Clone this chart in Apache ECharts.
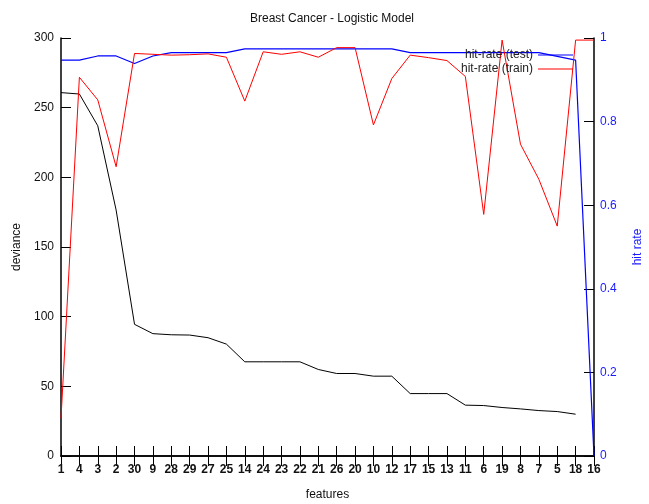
<!DOCTYPE html>
<html>
<head>
<meta charset="utf-8">
<script src="https://cdn.jsdelivr.net/npm/echarts@6/dist/echarts.min.js"></script>
<style>
  html, body { margin: 0; padding: 0; background: #fff; }
  #chart { width: 649px; height: 504px; }
</style>
</head>
<body>
<div id="chart"></div>
<script>
// Feature order used when growing the logistic model
var features = ['1','4','3','2','30','9','28','29','27','25','14','24','23','22','21','26','20','10','12','17','15','13','11','6','19','8','7','5','18','16'];

// Residual deviance after adding each feature (left axis)
var deviance = [260.8,259.8,237,176.5,94.5,87.8,87,86.8,84.9,80.3,67.6,67.6,67.6,67.6,62.1,59.2,59.2,57.3,57.3,44.8,44.8,44.8,36.5,36.2,34.8,33.8,32.6,31.9,30,null];

// Hit rates on the test and training sets (right axis)
var hitTest = [0.947,0.947,0.957,0.957,0.939,0.957,0.965,0.965,0.965,0.965,0.974,0.974,0.974,0.974,0.974,0.974,0.974,0.974,0.974,0.965,0.965,0.965,0.965,0.965,0.965,0.965,0.965,0.956,0.947,0];
var hitTrain = [0.09,0.906,0.852,0.692,0.963,0.961,0.959,0.96,0.962,0.954,0.849,0.967,0.961,0.967,0.954,0.977,0.977,0.792,0.903,0.959,0.953,0.946,0.908,0.578,0.995,0.746,0.662,0.55,0.995,0.995];

var font = "'Liberation Sans', Arial, sans-serif";
var chart = echarts.init(document.getElementById('chart'), null, { renderer: 'canvas' });

chart.setOption({
  animation: false,
  backgroundColor: '#fff',
  textStyle: { fontFamily: font },
  title: {
    text: 'Breast Cancer - Logistic Model',
    left: 327, textAlign: 'center', top: 8,
    textStyle: { fontFamily: font, fontSize: 12, fontWeight: 'normal', color: '#111' }
  },
  legend: {
    data: ['hit-rate (test)', 'hit-rate (train)'],
    orient: 'vertical', align: 'right',
    right: 71, top: 44, itemGap: 2,
    itemWidth: 35, itemHeight: 1.2, icon: 'rect',
    textStyle: { fontFamily: font, fontSize: 12, color: '#222' }
  },
  grid: { left: 61, right: 55, top: 38, bottom: 48, containLabel: false, outerBoundsMode: 'none' },
  xAxis: [{
    type: 'category', data: features, boundaryGap: false, position: 'bottom',
    name: 'features', nameLocation: 'middle', nameGap: 33,
    nameTextStyle: { fontFamily: font, fontSize: 12, color: '#111' },
    axisLine: { lineStyle: { color: '#000', width: 1.5 } },
    axisTick: { inside: true, length: 10, lineStyle: { color: '#000' } },
    axisLabel: { fontFamily: font, fontSize: 12, fontWeight: 'bold', color: '#111', margin: 8, interval: 0 },
    splitLine: { show: false }
  }, {
    type: 'category', data: features, boundaryGap: false, position: 'top',
    axisLine: { lineStyle: { color: '#000', width: 1.5 } },
    axisTick: { inside: true, length: 10, lineStyle: { color: '#000' } },
    axisLabel: { show: false },
    splitLine: { show: false }
  }],
  yAxis: [{
    type: 'value', min: 0, max: 300, interval: 50, position: 'left',
    name: 'deviance', nameLocation: 'middle', nameGap: 32, nameRotate: 90,
    nameTextStyle: { fontFamily: font, fontSize: 12, color: '#111' },
    axisLine: { show: true, lineStyle: { color: '#000', width: 1.5 } },
    axisTick: { show: true, inside: true, length: 10, lineStyle: { color: '#000' } },
    axisLabel: { fontFamily: font, fontSize: 12, color: '#111', margin: 7 },
    splitLine: { show: false }
  }, {
    type: 'value', min: 0, max: 1, interval: 0.2, position: 'right',
    name: 'hit rate', nameLocation: 'middle', nameGap: 38, nameRotate: 90,
    nameTextStyle: { fontFamily: font, fontSize: 12, color: '#1a1aff' },
    axisLine: { show: true, lineStyle: { color: '#000', width: 1.5 } },
    axisTick: { show: true, inside: true, length: 10, lineStyle: { color: '#000' } },
    axisLabel: { fontFamily: font, fontSize: 12, color: '#1a1aff', margin: 6 },
    splitLine: { show: false }
  }],
  series: [{
    name: 'deviance', type: 'line', xAxisIndex: 0, yAxisIndex: 0,
    data: deviance, showSymbol: false, symbol: 'none',
    lineStyle: { color: '#000', width: 1 }, itemStyle: { color: '#000' }
  }, {
    name: 'hit-rate (test)', type: 'line', xAxisIndex: 0, yAxisIndex: 1,
    data: hitTest, showSymbol: false, symbol: 'none',
    lineStyle: { color: '#0000ff', width: 1.2 }, itemStyle: { color: '#0000ff' }
  }, {
    name: 'hit-rate (train)', type: 'line', xAxisIndex: 0, yAxisIndex: 1,
    data: hitTrain, showSymbol: false, symbol: 'none',
    lineStyle: { color: '#ff0000', width: 1 }, itemStyle: { color: '#ff0000' }
  }]
});
</script>
</body>
</html>
